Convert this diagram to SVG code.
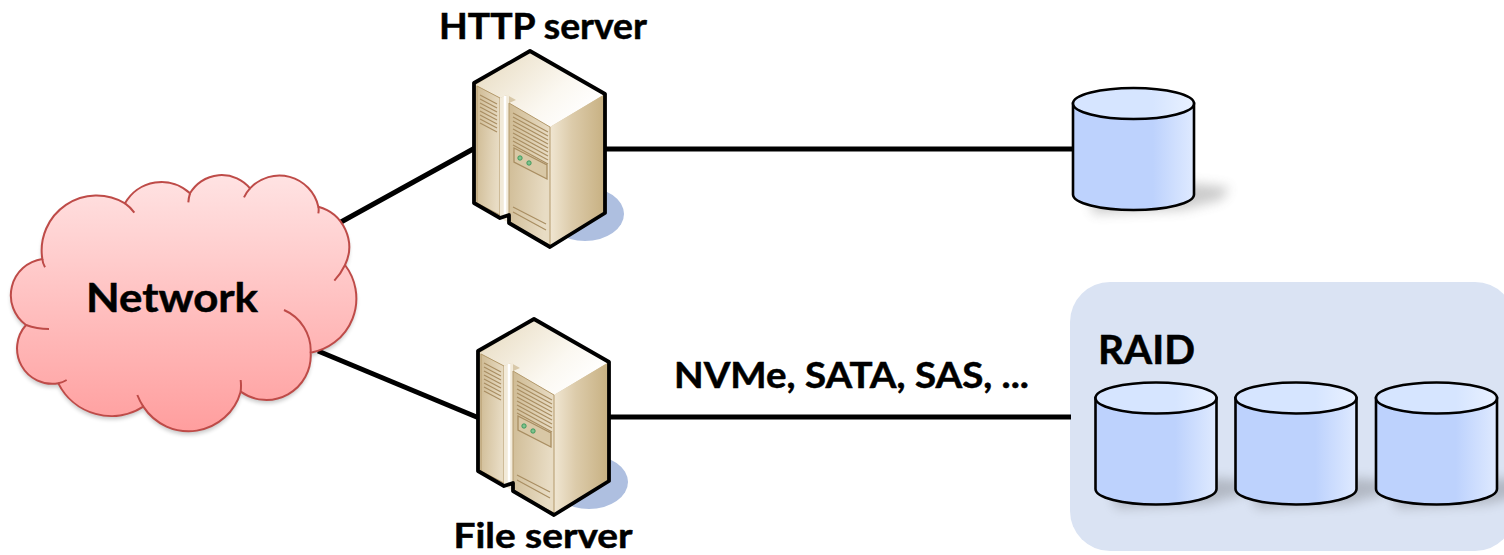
<svg xmlns="http://www.w3.org/2000/svg" width="1504" height="555" viewBox="0 0 1504 555">
<style>
.lbl{font-family:"Lato","Liberation Sans",sans-serif;font-weight:700;fill:#000;stroke:#000;stroke-width:0.5}
.conn{stroke:#000;stroke-width:5;fill:none}
.cyl{stroke:#000;stroke-width:2.6}
.vent{stroke:#a98e62;stroke-width:1.2;fill:none}
</style>
<defs>
<linearGradient id="cloudG" x1="0" y1="0" x2="0" y2="1"><stop offset="0" stop-color="#ffe3e3"/><stop offset="1" stop-color="#ff9e9e"/></linearGradient>
<linearGradient id="cylSide" x1="0" y1="0" x2="1" y2="0"><stop offset="0" stop-color="#bdd2fd"/><stop offset="0.66" stop-color="#bdd2fd"/><stop offset="1" stop-color="#dfeaff"/></linearGradient>
<linearGradient id="cylTop" x1="0" y1="0" x2="1" y2="0"><stop offset="0" stop-color="#d6e5ff"/><stop offset="0.66" stop-color="#d6e5ff"/><stop offset="1" stop-color="#e9f1ff"/></linearGradient>
<linearGradient id="srvRight" x1="0" y1="0" x2="1" y2="0"><stop offset="0" stop-color="#f0e6d2"/><stop offset="0.4" stop-color="#dccbaa"/><stop offset="1" stop-color="#c7b081"/></linearGradient>
<linearGradient id="srvTop" x1="0" y1="0" x2="1" y2="0.6"><stop offset="0" stop-color="#e6d9bd"/><stop offset="0.7" stop-color="#fbf8f1"/><stop offset="1" stop-color="#ffffff"/></linearGradient>
<linearGradient id="srvDoor" x1="0" y1="0" x2="1" y2="0.2"><stop offset="0" stop-color="#cfbb94"/><stop offset="1" stop-color="#e8dcc4"/></linearGradient>
<filter id="blur5" x="-40%" y="-80%" width="180%" height="260%"><feGaussianBlur stdDeviation="6"/></filter>
<filter id="blur3" x="-20%" y="-20%" width="140%" height="140%"><feGaussianBlur stdDeviation="6"/></filter>
<g id="cylinder">
<path d="M-45 88 L62 80 L96 84 L88 96 L50 106 L-40 110 Z" fill="#555" opacity="0.3" filter="url(#blur5)"/>
<path class="cyl" fill="url(#cylSide)" d="M-60.500 0 V91 A60.500 15.500 0 0 0 60.500 91 V0 Z"/>
<ellipse class="cyl" fill="url(#cylTop)" cx="0" cy="0" rx="60.500" ry="15.500"/>
</g>
<g id="server">
<ellipse cx="585" cy="214" rx="39" ry="27" fill="#aebfe0"/>
<path d="M530 51 L605 94 V213 L550 247 L509 223 V215 L500 218 L474 203 V83 Z" fill="#d8c8a8"/>
<path d="M530 51 L605 94 L550 127 L509 103 L516 100 L507 95 L500 98 L476 85 Z" fill="url(#srvTop)"/>
<path d="M550 127 L605 94 V213 L550 247 Z" fill="url(#srvRight)"/>
<path d="M477 86 L500 98 V215 L477 203 Z" fill="url(#srvDoor)" stroke="#b49a6c" stroke-width="1"/>
<path d="M500 98 L509 94 V223 L500 218 Z" fill="#f2ead9"/>
<path d="M505 96 V214" stroke="#fff" stroke-width="2.500" fill="none"/>
<path d="M509 103 L550 127 V245 L509 223 Z" fill="url(#srvDoor)" stroke="#b49a6c" stroke-width="1"/>
<path class="vent" d="M480 95 L497 104 M480 99 L497 108 M480 103 L497 112 M480 107 L497 116 M480 111 L497 120 M480 115 L497 124 M480 119 L497 128 M480 123 L497 132"/>
<path class="vent" d="M513 113 L548 132 M513 117 L548 136 M513 121 L548 140 M513 125 L548 144 M513 129 L548 148 M513 133 L548 152 M513 137 L548 156 M513 141 L548 160 M513 145 L548 164"/>
<path d="M514 148 L547 165 V179 L514 162 Z" fill="#d9c8a6" stroke="#a98e62" stroke-width="1.300"/>
<circle cx="520" cy="158" r="2.200" fill="#7fc28e" stroke="#2f8f50" stroke-width="0.800"/>
<circle cx="529" cy="163" r="2.200" fill="#7fc28e" stroke="#2f8f50" stroke-width="0.800"/>
<path class="vent" d="M513 207 L546 224 M513 212 L546 230"/>
<path d="M530 51 L605 94 V213 L550 247 L509 223 V215 L500 218 L474 203 V83 Z" fill="none" stroke="#000" stroke-width="3.800" stroke-linejoin="round"/>
</g>
</defs>

<g id="raid-box"><rect x="1070" y="282" width="445" height="269" rx="40" ry="40" fill="#dae3f3"/></g>

<g id="connectors">
<path class="conn" d="M341 222 L475 148"/>
<path class="conn" d="M606 149 H1074"/>
<path class="conn" d="M318 351 L479 418"/>
<path class="conn" d="M610 417 H1071"/>
</g>

<g id="network">
<g transform="translate(0 160) scale(0.33333)">
<path d="M127 297 A165 165 0 0 1 375 130 A125 125 0 0 1 570 100 A110 110 0 0 1 750 85 A120 120 0 0 1 955 140 A125 125 0 0 1 1035 315 A165 165 0 0 1 932 578 A133 133 0 0 1 722 695 A162 162 0 0 1 430 740 A178 178 0 0 1 175 670 A106 106 0 0 1 78 495 A110 110 0 0 1 127 297 Z" fill="#000" opacity="0.22" transform="translate(0 10)" filter="url(#blur3)"/>
<path d="M127 297 A165 165 0 0 1 375 130 A125 125 0 0 1 570 100 A110 110 0 0 1 750 85 A120 120 0 0 1 955 140 A125 125 0 0 1 1035 315 A165 165 0 0 1 932 578 A133 133 0 0 1 722 695 A162 162 0 0 1 430 740 A178 178 0 0 1 175 670 A106 106 0 0 1 78 495 A110 110 0 0 1 127 297 Z" fill="url(#cloudG)" stroke="#be4b48" stroke-width="6"/>
<path d="M127 297 Q128 310 135 322 M375 130 Q392 142 403 158 M570 100 Q566 113 565 127 M750 85 Q739 97 732 112 M955 140 Q957 150 955 160 M1035 315 Q1022 342 1003 362 M932 578 A133 133 0 0 0 852 450 M722 695 Q724 677 722 660 M430 740 Q419 723 412 705 M175 670 Q188 667 200 660 M78 495 Q110 507 147 507" fill="none" stroke="#be4b48" stroke-width="6"/>
</g>
<text class="lbl" x="172" y="312" font-size="40" text-anchor="middle" textLength="172" lengthAdjust="spacingAndGlyphs">Network</text>
</g>

<g id="http-server">
<use href="#server"/>
<text class="lbl" x="543" y="39" font-size="36" text-anchor="middle" textLength="208" lengthAdjust="spacingAndGlyphs">HTTP server</text>
</g>

<g id="file-server">
<use href="#server" transform="translate(4 268)"/>
<text class="lbl" x="543" y="548" font-size="34" text-anchor="middle" textLength="179" lengthAdjust="spacingAndGlyphs">File server</text>
</g>

<g id="disk"><use href="#cylinder" transform="translate(1133.500 103.500)"/></g>

<g id="raid">
<text class="lbl" x="1098" y="364" font-size="40" textLength="97" lengthAdjust="spacingAndGlyphs">RAID</text>
<g id="raid-disk-1"><use href="#cylinder" transform="translate(1156 398)"/></g>
<g id="raid-disk-2"><use href="#cylinder" transform="translate(1296 398)"/></g>
<g id="raid-disk-3"><use href="#cylinder" transform="translate(1436.500 398)"/></g>
</g>

<text class="lbl" x="674" y="388" font-size="36" textLength="355" lengthAdjust="spacingAndGlyphs">NVMe, SATA, SAS, ...</text>
</svg>
